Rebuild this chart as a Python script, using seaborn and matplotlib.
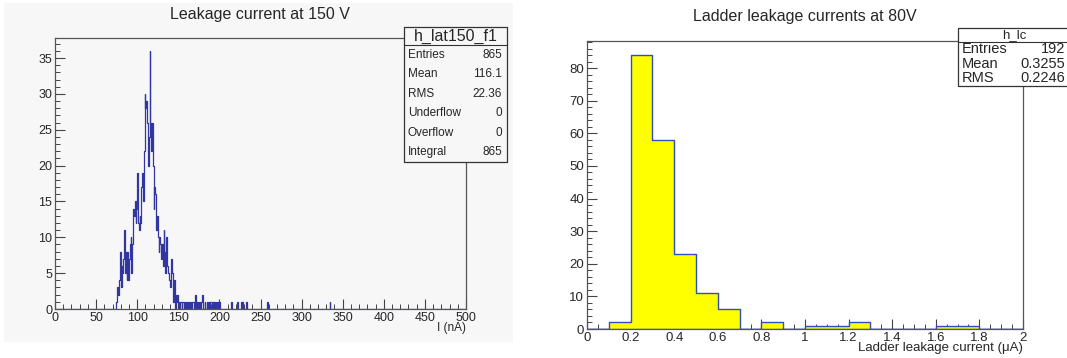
import matplotlib
matplotlib.use("Agg")
import matplotlib.pyplot as plt
import matplotlib.patches as mpatches
from matplotlib.ticker import MultipleLocator
import numpy as np
import pandas as pd
import seaborn as sns

sns.set_style("ticks")
plt.rcParams['font.family'] = ['Liberation Sans', 'DejaVu Sans']

# left histogram: 1 nA bins, leakage current at 150 V
lat_bins = list(range(74, 151))
lat_counts = [1, 2, 3, 2, 4, 8, 3, 6, 5, 7,
              11, 5, 8, 4, 8, 4, 7, 9, 10, 5,
              9, 14, 13, 15, 12, 14, 19, 12, 11, 13,
              12, 17, 19, 15, 22, 30, 28, 29, 26, 20,
              24, 36, 26, 22, 26, 20, 14, 17, 16, 11,
              13, 10, 8, 10, 9, 7, 9, 6, 11, 8,
              5, 10, 6, 5, 5, 4, 3, 7, 5, 2,
              1, 4, 0, 2, 1, 2, 1]
tail_bins = [152, 153, 155, 156, 158, 160, 162, 164, 165, 167, 168, 170, 172, 174,
             176, 178, 179, 182, 185, 187, 189, 190, 192, 194, 196, 198, 200,
             214, 222, 226, 228, 232, 233, 258, 334]
tail_counts = [1, 1, 1, 1, 1, 1, 1, 1, 1, 1, 1, 2, 1, 1,
               1, 1, 2, 1, 1, 1, 1, 1, 1, 1, 1, 1, 1,
               1, 1, 1, 1, 1, 1, 1, 1]

# right histogram: 0.1 uA bins, ladder leakage at 80 V
lc_edges = [0.1, 0.2, 0.3, 0.4, 0.5, 0.6, 0.8, 1.0, 1.1, 1.2, 1.6, 1.7]
lc_counts = [2, 84, 58, 23, 11, 6, 2, 1, 1, 2, 1, 1]
lc_ticklabels = ["0", "0.2", "0.4", "0.6", "0.8", "1", "1.2", "1.4", "1.6", "1.8", "2"]

stats_left = [("Entries", "865"), ("Mean", "116.1"), ("RMS", "22.36"),
              ("Underflow", "0"), ("Overflow", "0"), ("Integral", "865")]
stats_right = [("Entries", "192"), ("Mean", "0.3255"), ("RMS", "0.2246")]

W, H = 1067, 358
fig = plt.figure(figsize=(W / 100, H / 100), dpi=100)
fig.patch.set_facecolor("white")

def fx(px):
    return px / W

def fy(py):
    return 1 - py / H

# light grey screenshot background on the left
fig.patches.append(mpatches.Rectangle((fx(4), fy(342)), fx(509), 339 / H,
                                      transform=fig.transFigure, facecolor="#f7f7f7",
                                      edgecolor="none", zorder=-10))

line_blue = "#3236a0"

ax1 = fig.add_axes([fx(55), fy(309), fx(411), 271 / H])
ax1.set_facecolor("#f7f7f7")
df1 = pd.DataFrame({"x": [b + 0.5 for b in lat_bins + tail_bins],
                    "w": lat_counts + tail_counts})
sns.histplot(data=df1, x="x", weights="w", binwidth=1, binrange=(0, 500),
             element="step", fill=False, color=line_blue, linewidth=0.9, ax=ax1)
ax1.set_xlim(0, 500)
ax1.set_ylim(0, 37.8)
ax1.xaxis.set_major_locator(MultipleLocator(50))
ax1.xaxis.set_minor_locator(MultipleLocator(10))
ax1.yaxis.set_major_locator(MultipleLocator(5))
ax1.yaxis.set_minor_locator(MultipleLocator(1))
ax1.set_xlabel("")
ax1.set_ylabel("")

ax2 = fig.add_axes([fx(587), fy(329), fx(436), 288 / H])
df2 = pd.DataFrame({"x": [e + 0.05 for e in lc_edges], "w": lc_counts})
sns.histplot(data=df2, x="x", weights="w", binwidth=0.1, binrange=(0, 2),
             element="step", fill=True, color="#ffff00", alpha=1,
             edgecolor="#2f4fc0", linewidth=1.0, ax=ax2)
ax2.set_xlim(0, 2)
ax2.set_ylim(0, 88.3)
ax2.set_xticks(np.round(np.arange(0, 2.01, 0.2), 1))
ax2.set_xticklabels(lc_ticklabels)
ax2.xaxis.set_minor_locator(MultipleLocator(0.05))
ax2.yaxis.set_major_locator(MultipleLocator(10))
ax2.yaxis.set_minor_locator(MultipleLocator(2))
ax2.set_xlabel("")
ax2.set_ylabel("")

for ax, lsize in ((ax1, 9), (ax2, 9.5)):
    for sp in ax.spines.values():
        sp.set_color("#555555")
        sp.set_linewidth(0.9)
    ax.tick_params(which="major", direction="in", length=7, width=0.8,
                   color="#444444", labelsize=lsize, pad=2)
    ax.tick_params(which="minor", direction="in", length=3.5, width=0.7, color="#444444")
    ax.tick_params(top=False, right=False)

fig.text(fx(260), fy(15), "Leakage current at 150 V", ha="center", va="center", fontsize=11.5)
fig.text(fx(466), fy(328), "I (nA)", ha="right", va="center", fontsize=8.5)
fig.text(fx(805), fy(16), "Ladder leakage currents at 80V", ha="center", va="center", fontsize=11.5)
fig.text(fx(1023), fy(348), "Ladder leakage current (\u03bcA)", ha="right", va="center", fontsize=9.5)

def stats_box(x0, y0, x1, head_h, row_h, name, rows, name_size, row_size, bg):
    y1 = y0 + head_h + row_h * len(rows)
    fig.patches.append(mpatches.Rectangle((fx(x0), fy(y1)), fx(x1 - x0), (y1 - y0) / H,
                                          transform=fig.transFigure, facecolor=bg,
                                          edgecolor="#333333", linewidth=0.9, zorder=5))
    fig.add_artist(plt.Line2D([fx(x0), fx(x1)], [fy(y0 + head_h)] * 2,
                              color="#333333", linewidth=0.8, zorder=6))
    fig.text(fx((x0 + x1) / 2), fy(y0 + head_h / 2), name, ha="center", va="center",
             fontsize=name_size, zorder=7)
    for i, (k, v) in enumerate(rows):
        yc = fy(y0 + head_h + row_h * (i + 0.5))
        fig.text(fx(x0 + 4), yc, k, ha="left", va="center", fontsize=row_size, zorder=7)
        fig.text(fx(x1 - 5), yc, v, ha="right", va="center", fontsize=row_size, zorder=7)

stats_box(404, 27, 507, 18, 19.5, "h_lat150_f1", stats_left, 11.5, 8.5, "#f7f7f7")
stats_box(958, 28, 1070, 14, 14.5, "h_lc", stats_right, 9.5, 10.5, "white")

fig.savefig("out.png", dpi=100)
